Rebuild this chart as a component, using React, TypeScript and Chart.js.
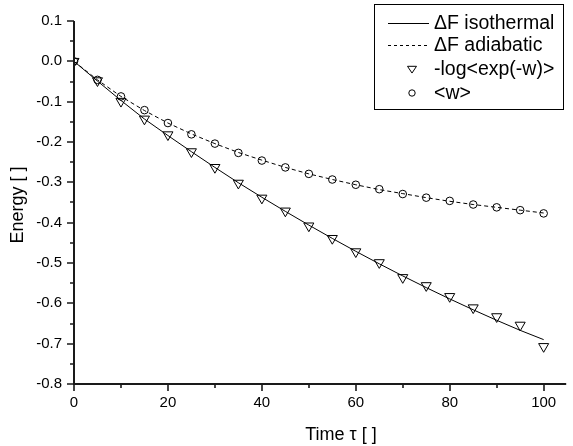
import React, { useEffect, useRef } from "react";
import { Chart, registerables } from "chart.js";

Chart.register(...registerables);

const timeValues = [0, 5, 10, 15, 20, 25, 30, 35, 40, 45, 50, 55, 60, 65, 70, 75, 80, 85, 90, 95, 100];
const isothermalF = [0, -0.049, -0.097, -0.143, -0.184, -0.224, -0.263, -0.301, -0.337, -0.372, -0.406, -0.439, -0.471, -0.502, -0.532, -0.561, -0.589, -0.616, -0.642, -0.667, -0.69];
const adiabaticF = [0, -0.046, -0.087, -0.122, -0.153, -0.18, -0.204, -0.226, -0.245, -0.263, -0.279, -0.293, -0.306, -0.318, -0.328, -0.338, -0.347, -0.355, -0.362, -0.369, -0.376];
const logExpW = [0, -0.048, -0.099, -0.143, -0.182, -0.224, -0.263, -0.302, -0.339, -0.371, -0.408, -0.439, -0.472, -0.499, -0.536, -0.556, -0.583, -0.611, -0.633, -0.654, -0.707];
const meanW = [0, -0.046, -0.087, -0.121, -0.153, -0.181, -0.204, -0.227, -0.246, -0.263, -0.279, -0.293, -0.306, -0.317, -0.329, -0.338, -0.346, -0.355, -0.362, -0.369, -0.377];

const xMajorTicks = [0, 20, 40, 60, 80, 100];
const xMinorTicks = [10, 30, 50, 70, 90];
const yMajorTicks = [-0.8, -0.7, -0.6, -0.5, -0.4, -0.3, -0.2, -0.1, 0, 0.1];
const yMinorTicks = [-0.75, -0.65, -0.55, -0.45, -0.35, -0.25, -0.15, -0.05, 0.05];

const seriesLabels = ["\u0394F isothermal", "\u0394F adiabatic", "-log<exp(-w)>", "<w>"];
const xTitle = "Time \u03c4 [ ]";
const yTitle = "Energy [ ]";

const FONT = "'Liberation Sans', Arial, sans-serif";

const toPoints = (ys: number[]) => timeValues.map((x, i) => ({ x, y: ys[i] }));

const axesPlugin = {
  id: "originAxes",
  afterDraw(chart: any) {
    const ctx = chart.ctx as CanvasRenderingContext2D;
    const area = chart.chartArea;
    const xs = chart.scales.x;
    const ys = chart.scales.y;
    ctx.save();
    ctx.strokeStyle = "#1a1a1a";
    ctx.lineWidth = 2;
    ctx.beginPath();
    ctx.moveTo(area.left, area.top);
    ctx.lineTo(area.left, area.bottom);
    ctx.lineTo(area.right, area.bottom);
    ctx.stroke();
    ctx.lineWidth = 1.6;
    ctx.beginPath();
    xMajorTicks.forEach((v) => {
      const px = Math.round(xs.getPixelForValue(v));
      ctx.moveTo(px, area.bottom);
      ctx.lineTo(px, area.bottom + 7);
    });
    xMinorTicks.forEach((v) => {
      const px = Math.round(xs.getPixelForValue(v));
      ctx.moveTo(px, area.bottom);
      ctx.lineTo(px, area.bottom + 4);
    });
    yMajorTicks.forEach((v) => {
      const py = Math.round(ys.getPixelForValue(v));
      ctx.moveTo(area.left, py);
      ctx.lineTo(area.left - 7, py);
    });
    yMinorTicks.forEach((v) => {
      const py = Math.round(ys.getPixelForValue(v));
      ctx.moveTo(area.left, py);
      ctx.lineTo(area.left - 4, py);
    });
    ctx.stroke();

    // axis titles
    ctx.fillStyle = "#000";
    ctx.font = `18px ${FONT}`;
    ctx.textAlign = "center";
    ctx.textBaseline = "middle";
    ctx.fillText(xTitle, 341, 435);
    ctx.save();
    ctx.translate(18, 205);
    ctx.rotate(-Math.PI / 2);
    ctx.fillText(yTitle, 0, 0);
    ctx.restore();

    // legend
    const bx = 374.5, by = 4.5, bw = 189, bh = 105;
    ctx.fillStyle = "#fff";
    ctx.fillRect(bx, by, bw, bh);
    ctx.strokeStyle = "#000";
    ctx.lineWidth = 1;
    ctx.strokeRect(bx, by, bw, bh);
    const rows = [23, 45, 69, 93];
    const sx0 = 388, sx1 = 429, mx = 412, tx = 434;
    ctx.beginPath();
    ctx.moveTo(sx0, rows[0] + 0.5);
    ctx.lineTo(sx1, rows[0] + 0.5);
    ctx.stroke();
    ctx.setLineDash([3, 3]);
    ctx.beginPath();
    ctx.moveTo(sx0, rows[1] + 0.5);
    ctx.lineTo(sx1, rows[1] + 0.5);
    ctx.stroke();
    ctx.setLineDash([]);
    // triangle down
    const tr = 4.5;
    ctx.beginPath();
    ctx.moveTo(mx - tr, rows[2] - tr * 0.6);
    ctx.lineTo(mx + tr, rows[2] - tr * 0.6);
    ctx.lineTo(mx, rows[2] + tr * 0.9);
    ctx.closePath();
    ctx.stroke();
    ctx.beginPath();
    ctx.arc(mx, rows[3], 3.2, 0, Math.PI * 2);
    ctx.stroke();
    ctx.fillStyle = "#000";
    ctx.textAlign = "left";
    ctx.textBaseline = "middle";
    ctx.font = `19.5px ${FONT}`;
    seriesLabels.forEach((t, i) => ctx.fillText(t, tx, rows[i] + 1));
    ctx.restore();
  },
};

export default function App() {
  const ref = useRef<HTMLCanvasElement>(null);
  useEffect(() => {
    if (!ref.current) return;
    const chart = new Chart(ref.current, {
      type: "scatter",
      data: {
        datasets: [
          {
            label: seriesLabels[2],
            data: toPoints(logExpW),
            showLine: false,
            pointStyle: "triangle",
            rotation: 180,
            pointRadius: 5.8,
            pointBorderWidth: 1,
            borderColor: "#000",
            backgroundColor: "rgba(0,0,0,0)",
            pointBackgroundColor: "rgba(0,0,0,0)",
            pointBorderColor: "#000",
          },
          {
            label: seriesLabels[3],
            data: toPoints(meanW),
            showLine: false,
            pointStyle: "circle",
            pointRadius: 3.8,
            pointBorderWidth: 1,
            borderColor: "#000",
            backgroundColor: "rgba(0,0,0,0)",
            pointBackgroundColor: "rgba(0,0,0,0)",
            pointBorderColor: "#000",
          },
          {
            label: seriesLabels[0],
            data: toPoints(isothermalF),
            showLine: true,
            pointRadius: 0,
            borderColor: "#000",
            borderWidth: 1,
            tension: 0,
          },
          {
            label: seriesLabels[1],
            data: toPoints(adiabaticF),
            showLine: true,
            pointRadius: 0,
            borderColor: "#000",
            borderWidth: 1,
            borderDash: [4, 3],
            tension: 0,
          },
        ],
      },
      options: {
        responsive: false,
        animation: false,
        layout: { padding: { top: 14, right: 0, left: 0, bottom: 0 } },
        plugins: { legend: { display: false }, tooltip: { enabled: false } },
        scales: {
          x: {
            type: "linear",
            min: 0,
            max: 104.8,
            grid: { display: false, drawTicks: false },
            border: { display: false },
            afterBuildTicks: (s: any) => {
              s.ticks = xMajorTicks.map((v) => ({ value: v }));
            },
            afterFit: (s: any) => {
              s.height = 62;
            },
            ticks: {
              autoSkip: false,
              maxRotation: 0,
              padding: 10,
              color: "#000",
              font: { family: FONT, size: 15 },
              callback: (v: any) => String(v),
            },
          },
          y: {
            type: "linear",
            min: -0.8,
            max: 0.1,
            grid: { display: false, drawTicks: false },
            border: { display: false },
            afterBuildTicks: (s: any) => {
              s.ticks = yMajorTicks.map((v) => ({ value: v }));
            },
            afterFit: (s: any) => {
              s.width = 74;
            },
            ticks: {
              autoSkip: false,
              padding: 12,
              color: "#000",
              font: { family: FONT, size: 15 },
              callback: (v: any) => Number(v).toFixed(1),
            },
          },
        },
      },
      plugins: [axesPlugin],
    });
    return () => chart.destroy();
  }, []);
  return (
    <div style={{ position: "absolute", left: 0, top: 0, width: 573, height: 446, background: "#fff" }}>
      <canvas ref={ref} width={573} height={446} />
    </div>
  );
}
